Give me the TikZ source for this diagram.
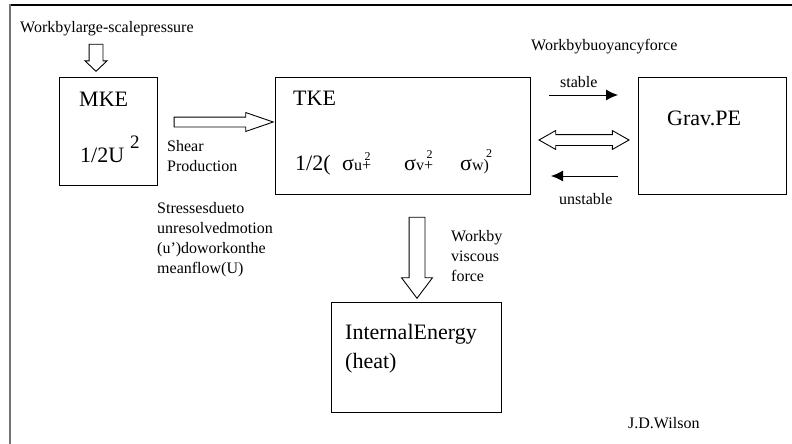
\documentclass[tikz,border=0pt]{standalone}
\usepackage{fontspec}
\setmainfont{Liberation Serif}
\usetikzlibrary{shapes.arrows,arrows.meta,positioning}

% sigma term with the squared sign set on top of the plus
\newcommand\sgterm[3]{σ{\fontsize{16}{16}\selectfont #1\makebox[0pt][l]{\hspace{2.5pt}\raisebox{#3}{\fontsize{12}{12}\selectfont 2}}#2}}

\tikzset{
    box/.style={draw, line width=1pt, rectangle, anchor=north west, inner sep=0pt, outer sep=0pt},
    small/.style={font=\fontsize{16}{20}\selectfont, inner sep=0pt, anchor=base west, align=left},
    big/.style={font=\fontsize{22}{29}\selectfont, inner sep=0pt, anchor=base west, align=left},
    fatarrow/.style={single arrow, draw, line width=0.9pt, inner xsep=0pt, minimum width=0pt},
    thinarrow/.style={-{Latex[length=12pt,width=11pt]}, line width=1pt}
}

\begin{document}
\begin{tikzpicture}[x=1pt, y=-1pt]
    \useasboundingbox (0,0) rectangle (792,444);
    % Frame
    \draw[line width=1.3pt] (10,5) -- (792,5);
    \draw[line width=2pt, black!55] (10,4.4) -- (10,444);

    % Boxes
    \node[box, minimum width=98pt, minimum height=108pt] (mke) at (59,77) {};
    \node[box, minimum width=255pt, minimum height=117pt] (tke) at (275,77) {};
    \node[box, minimum width=148pt, minimum height=117pt] (grav) at (638,77) {};
    \node[box, minimum width=170pt, minimum height=110pt] (heat) at (331,302) {};

    % Box texts
    \node[big] (mketxt) at (79,106) {MKE};
    \node[big] (mkeform) at (80,162) {1/2U};
    \node[font=\fontsize{19}{19}\selectfont, inner sep=0pt, anchor=base west] (mkesq) at (130,148) {2};
    \node[big] (tketxt) at (293,105) {TKE};
    \node[big] (half) at (295,170) {1/2(};
    \node[big] (sigu) at (342,170) {\sgterm{u}{+}{10pt}};
    \node[big] (sigv) at (404,170) {\sgterm{v}{+}{12pt}};
    \node[big] (sigw) at (460,170) {\sgterm{w}{)}{13pt}};
    \node[big] (gravtxt) at (667,125) {Grav.PE};
    \node[big] (heattxt) at (345,368) {InternalEnergy\\(heat)};

    % Fat arrows
    \node[fatarrow, rotate=-90, inner ysep=6.5pt, single arrow head extend=4pt,
          single arrow tip angle=93, minimum height=27pt] (press) at (96,54.5) {};
    \node[fatarrow, inner ysep=4.5pt, single arrow head extend=4.5pt,
          single arrow tip angle=38, minimum height=99pt] (shear) at (216.5,122) {};
    \node[fatarrow, rotate=-90, inner ysep=7.5pt, single arrow head extend=7.5pt,
          single arrow tip angle=74, minimum height=81pt] (visc) at (417,252.5) {};
    \node[double arrow, draw, line width=0.9pt, inner xsep=0pt, minimum width=0pt,
          inner ysep=5pt, double arrow head extend=4pt,
          double arrow tip angle=59, minimum height=90pt] (exch) at (584,140) {};

    % Thin arrows
    \draw[thinarrow] ([xshift=19pt,yshift=-18pt]tke.north east) -- ([xshift=-20pt,yshift=-18pt]grav.north west);
    \draw[thinarrow] ([xshift=-20pt,yshift=18pt]grav.south west) -- ([xshift=21pt,yshift=18pt]tke.south east);

    % Labels
    \node[small] (wlsp) at (20,33) {Workbylarge-scalepressure};
    \node[small] (shtxt) at (167,171) {Shear\\Production};
    \node[small] (stress) at (157,273) {Stressesdueto\\unresolvedmotion\\(u’)doworkonthe\\meanflow(U)};
    \node[small] (wbuoy) at (531,51) {Workbybuoyancyforce};
    \node[small] (stab) at (560,87) {stable};
    \node[small] (unstab) at (559,204) {unstable};
    \node[small] (visctxt) at (451,281) {Workby\\viscous\\force};
    \node[small] (jdw) at (628,428) {J.D.Wilson};
\end{tikzpicture}
\end{document}
